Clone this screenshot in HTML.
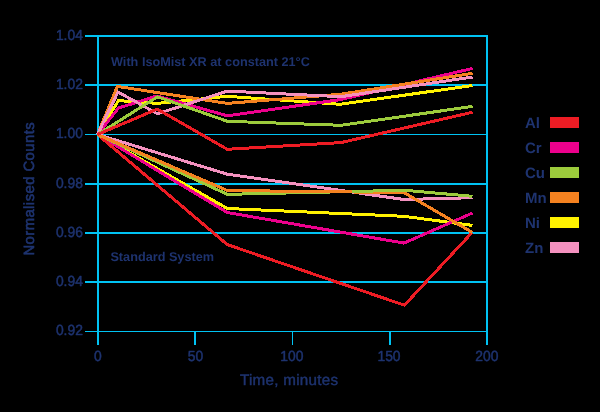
<!DOCTYPE html>
<html><head><meta charset="utf-8">
<style>
html,body{margin:0;padding:0;background:#000;}
body{width:600px;height:412px;overflow:hidden;position:relative;font-family:"Liberation Sans",sans-serif;}
svg{position:absolute;left:0;top:0;display:block}
text{font-family:"Liberation Sans",sans-serif;fill:#1f3470;}
</style></head><body>
<svg width="600" height="412" viewBox="0 0 600 412">
<rect width="600" height="412" fill="#000"/>
<!-- grid -->
<g fill="#00c3f3" shape-rendering="crispEdges">
<rect x="85" y="35" width="403" height="2"/>
<rect x="85" y="84" width="403" height="2"/>
<rect x="85" y="134" width="403" height="1"/>
<rect x="85" y="183" width="403" height="2"/>
<rect x="85" y="232" width="403" height="2"/>
<rect x="85" y="281" width="403" height="2"/>
<rect x="85" y="331" width="403" height="1"/>
<rect x="97" y="35" width="2" height="310"/>
<rect x="486" y="35" width="2" height="310"/>
<rect x="194" y="331" width="2" height="14"/>
<rect x="292" y="331" width="1" height="14"/>
<rect x="389" y="331" width="2" height="14"/>
</g>
<!-- lines -->
<g fill="none" stroke-width="3" stroke-linejoin="miter" stroke-linecap="butt" shape-rendering="crispEdges">
<!-- lower group -->
<polyline stroke="#fff200" points="97.5,134.5 227.3,208.5 404,216.3 472.5,225.4"/>
<polyline stroke="#ec008c" points="97.5,134.5 227.3,212.5 404,243.1 472.5,213"/>
<polyline stroke="#ed1c24" points="97.5,134.5 227.3,244.6 404.4,305.2 472,232.6"/>
<polyline stroke="#f491bf" points="97.5,134.5 227.3,174.2 404,199.5 472.5,197.7"/>
<polyline stroke="#9ccb3c" points="97.5,134.5 227.3,194.35 404,190.3"/>
<polyline stroke="#f58220" points="97.5,134.5 227.3,190.5 404,192.6 472.3,232.4"/>
<polyline stroke="#9ccb3c" points="352,191.5 404.5,190.3 472.5,196.3"/>
<!-- upper group -->
<polyline stroke="#fff200" points="97.5,134.5 118.5,100.6 157.5,103.4 227.3,96.3 340,104.3 472.5,85.5"/>
<polyline stroke="#ec008c" points="97.5,134.5 118.5,108 157,96 227.3,115.8 341,99.5 472.5,68.4"/>
<polyline stroke="#f58220" points="97.5,134.5 117.3,86.4 227.3,103.4 341,94.2 472.5,73.3"/>
<polyline stroke="#f491bf" points="97.5,134.5 118,92 157.5,113.8 227.3,91.1 341,96.7 472.5,77"/>
<polyline stroke="#9ccb3c" points="97.5,134.5 157.5,96.8 227.3,121.3 341,125.3 472.5,106.4"/>
<polyline stroke="#ed1c24" points="97.5,134.5 157.2,109.1 227.3,149.3 341,142.6 472.5,112.2"/>
</g>
<g opacity="0.996" text-rendering="geometricPrecision">
<!-- y tick labels -->
<text transform="translate(82.9,40) scale(0.95,1)" font-size="14.6" text-anchor="end" stroke="#1f3470" stroke-width="0.5" stroke-linejoin="round">1.04</text>
<text transform="translate(82.9,89) scale(0.95,1)" font-size="14.6" text-anchor="end" stroke="#1f3470" stroke-width="0.5" stroke-linejoin="round">1.02</text>
<text transform="translate(82.9,138) scale(0.95,1)" font-size="14.6" text-anchor="end" stroke="#1f3470" stroke-width="0.5" stroke-linejoin="round">1.00</text>
<text transform="translate(82.9,188) scale(0.95,1)" font-size="14.6" text-anchor="end" stroke="#1f3470" stroke-width="0.5" stroke-linejoin="round">0.98</text>
<text transform="translate(82.9,237) scale(0.95,1)" font-size="14.6" text-anchor="end" stroke="#1f3470" stroke-width="0.5" stroke-linejoin="round">0.96</text>
<text transform="translate(82.9,286) scale(0.95,1)" font-size="14.6" text-anchor="end" stroke="#1f3470" stroke-width="0.5" stroke-linejoin="round">0.94</text>
<text transform="translate(82.9,335) scale(0.95,1)" font-size="14.6" text-anchor="end" stroke="#1f3470" stroke-width="0.5" stroke-linejoin="round">0.92</text>
<!-- x tick labels -->
<text transform="translate(97.9,361) scale(0.95,1)" font-size="14.6" text-anchor="middle" stroke="#1f3470" stroke-width="0.5" stroke-linejoin="round">0</text>
<text transform="translate(195.5,361) scale(0.95,1)" font-size="14.6" text-anchor="middle" stroke="#1f3470" stroke-width="0.5" stroke-linejoin="round">50</text>
<text transform="translate(291.9,361) scale(0.95,1)" font-size="14.6" text-anchor="middle" stroke="#1f3470" stroke-width="0.5" stroke-linejoin="round">100</text>
<text transform="translate(389,361) scale(0.95,1)" font-size="14.6" text-anchor="middle" stroke="#1f3470" stroke-width="0.5" stroke-linejoin="round">150</text>
<text transform="translate(486.9,361) scale(0.95,1)" font-size="14.6" text-anchor="middle" stroke="#1f3470" stroke-width="0.5" stroke-linejoin="round">200</text>
<text x="240" y="384.8" font-size="15.2" textLength="98" lengthAdjust="spacing" stroke="#1f3470" stroke-width="0.45">Time, minutes</text>
<text transform="translate(34.4,255.6) rotate(-90)" font-size="14.8" textLength="133.3" lengthAdjust="spacing" stroke="#1f3470" stroke-width="0.6">Normalised Counts</text>
<text transform="translate(111,65.7) scale(1,1)" font-size="12.7" text-anchor="start" font-weight="bold">With IsoMist XR at constant 21°C</text>
<text transform="translate(110.4,261.4) scale(1,1)" font-size="12.7" text-anchor="start" font-weight="bold">Standard System</text>
<!-- legend -->
<text x="525" y="128" font-size="15" font-weight="bold">Al</text>
<text x="525" y="153" font-size="15" font-weight="bold">Cr</text>
<text x="525" y="178" font-size="15" font-weight="bold">Cu</text>
<text x="525" y="203" font-size="15" font-weight="bold">Mn</text>
<text x="525" y="228" font-size="15" font-weight="bold">Ni</text>
<text x="525" y="253" font-size="15" font-weight="bold">Zn</text>
</g>
<g shape-rendering="crispEdges">
<rect x="550" y="117" width="29" height="11" fill="#ed1c24"/>
<rect x="550" y="142" width="29" height="11" fill="#ec008c"/>
<rect x="550" y="167" width="29" height="11" fill="#9ccb3c"/>
<rect x="550" y="192" width="29" height="11" fill="#f58220"/>
<rect x="550" y="217" width="29" height="11" fill="#fff200"/>
<rect x="550" y="242" width="29" height="11" fill="#f491bf"/>
</g>
</svg>
</body></html>
